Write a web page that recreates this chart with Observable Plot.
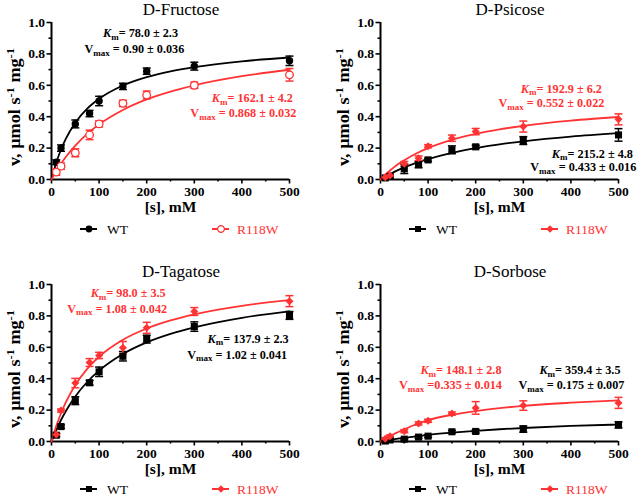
<!DOCTYPE html>
<html><head><meta charset="utf-8">
<script src="https://cdn.jsdelivr.net/npm/d3@7"></script>
<script src="https://cdn.jsdelivr.net/npm/@observablehq/plot@0.6"></script>
<style>
body{margin:0;background:#fff;}
#chart{position:relative;width:638px;height:497px;overflow:hidden;background:#fff;font-family:"Liberation Serif","Times New Roman",serif;}
.panel{position:absolute;width:309px;height:262px;}
.panel svg{position:absolute;left:0;top:0;}
.title{position:absolute;top:0px;font-size:17px;line-height:19px;transform:translateX(-50%);white-space:nowrap;color:#000;}
</style></head><body><div id="chart"></div>
<script>
// ---- data ----
const substrate = [10, 20, 50, 80, 100, 150, 200, 300, 500];
const fitS = [0, 10, 20, 30, 50, 75, 100, 150, 200, 250, 300, 400, 500];
const seriesNames = ["WT", "R118W"];
const titles = ["D-Fructose", "D-Psicose", "D-Tagatose", "D-Sorbose"];
const xTicks = [0, 100, 200, 300, 400, 500];
const xMinor = [50, 150, 250, 350, 450];
const yTicks = [0, 0.2, 0.4, 0.6, 0.8, 1.0];
const yMinor = [0.1, 0.3, 0.5, 0.7, 0.9];

const fructoseWT = [0.11, 0.20, 0.354, 0.42, 0.50, 0.593, 0.69, 0.722, 0.756];
const fructoseWTerr = [0.015, 0.02, 0.025, 0.02, 0.03, 0.02, 0.02, 0.025, 0.03];
const fructoseWTfit = [0, 0.107, 0.191, 0.259, 0.362, 0.451, 0.514, 0.599, 0.652, 0.689, 0.716, 0.753, 0.777];
const fructoseMut = [0.047, 0.085, 0.17, 0.284, 0.354, 0.485, 0.538, 0.60, 0.667];
const fructoseMutErr = [0.02, 0.02, 0.025, 0.03, 0.02, 0.02, 0.025, 0.02, 0.04];
const fructoseMutFit = [0, 0.053, 0.10, 0.143, 0.216, 0.291, 0.351, 0.443, 0.51, 0.56, 0.60, 0.658, 0.699];

const psicoseWT = [0.01, 0.02, 0.068, 0.095, 0.125, 0.189, 0.208, 0.248, 0.284];
const psicoseWTerr = [0.005, 0.01, 0.03, 0.02, 0.01, 0.025, 0.01, 0.025, 0.04];
const psicoseWTfit = [0, 0.018, 0.034, 0.05, 0.077, 0.106, 0.13, 0.17, 0.20, 0.224, 0.243, 0.273, 0.295];
const psicoseMut = [0.015, 0.025, 0.10, 0.135, 0.212, 0.263, 0.305, 0.337, 0.383];
const psicoseMutErr = [0.005, 0.01, 0.015, 0.015, 0.01, 0.02, 0.02, 0.035, 0.035];
const psicoseMutFit = [0, 0.03, 0.057, 0.082, 0.123, 0.166, 0.20, 0.252, 0.29, 0.319, 0.342, 0.375, 0.398];

const tagatoseWT = [0.04, 0.095, 0.26, 0.374, 0.444, 0.543, 0.652, 0.732, 0.803];
const tagatoseWTerr = [0.01, 0.01, 0.025, 0.015, 0.03, 0.03, 0.025, 0.03, 0.025];
const tagatoseWTfit = [0, 0.073, 0.137, 0.193, 0.287, 0.379, 0.451, 0.557, 0.631, 0.685, 0.727, 0.788, 0.829];
const tagatoseMut = [0.045, 0.197, 0.372, 0.503, 0.548, 0.597, 0.724, 0.828, 0.894];
const tagatoseMutErr = [0.01, 0.01, 0.03, 0.025, 0.02, 0.04, 0.035, 0.025, 0.035];
const tagatoseMutFit = [0, 0.098, 0.18, 0.249, 0.36, 0.463, 0.54, 0.648, 0.72, 0.771, 0.81, 0.864, 0.90];

const sorboseWT = [0.003, 0.01, 0.015, 0.028, 0.034, 0.062, 0.064, 0.079, 0.106];
const sorboseWTerr = [0.003, 0.005, 0.005, 0.008, 0.008, 0.008, 0.01, 0.02, 0.02];
const sorboseWTfit = [0, 0.005, 0.01, 0.015, 0.024, 0.033, 0.042, 0.056, 0.068, 0.078, 0.086, 0.099, 0.108];
const sorboseMut = [0.017, 0.034, 0.066, 0.115, 0.132, 0.178, 0.214, 0.229, 0.246];
const sorboseMutErr = [0.005, 0.008, 0.01, 0.01, 0.01, 0.01, 0.04, 0.03, 0.035];
const sorboseMutFit = [0, 0.018, 0.035, 0.05, 0.078, 0.11, 0.136, 0.17, 0.194, 0.2125, 0.227, 0.247, 0.262];

// kinetic constants text [WT, R118W]
const fructoseKm = ["K_m= 78.0 ± 2.3", "K_m= 162.1 ± 4.2"];
const fructoseVmax = ["V_max = 0.90 ± 0.036", "V_max = 0.868 ± 0.032"];
const psicoseKm = ["K_m= 215.2 ± 4.8", "K_m= 192.9 ± 6.2"];
const psicoseVmax = ["V_max = 0.433 ± 0.016", "V_max = 0.552 ± 0.022"];
const tagatoseKm = ["K_m= 137.9 ± 2.3", "K_m= 98.0 ± 3.5"];
const tagatoseVmax = ["V_max = 1.02 ± 0.041", "V_max = 1.08 ± 0.042"];
const sorboseKm = ["K_m= 359.4 ± 3.5", "K_m= 148.1 ± 2.8"];
const sorboseVmax = ["V_max = 0.175 ± 0.007", "V_max =0.335 ± 0.014"];

// ---- layout (annotation anchors in data units: [WT Km, WT Vmax, Mut Km, Mut Vmax]) ----
const RED = "#ff3333";
const layout = [
  {left: 0, top: 0, legTop: 219, wtSym: "circle", mutSym: "circle", mutOpen: true,
   ann: [[187, 0.93], [174, 0.828], [422, 0.516], [403, 0.42]]},
  {left: 329, top: 0, legTop: 219, wtSym: "square", mutSym: "diamond2", mutOpen: false,
   ann: [[445, 0.165], [426, 0.079], [380, 0.578], [359, 0.484]]},
  {left: 0, top: 262, legTop: 217, wtSym: "square", mutSym: "diamond2", mutOpen: false,
   ann: [[413, 0.654], [390, 0.552], [161, 0.945], [138, 0.845]]},
  {left: 329, top: 262, legTop: 217, wtSym: "square", mutSym: "diamond2", mutOpen: false,
   ann: [[419, 0.452], [401, 0.357], [169, 0.452], [147, 0.357]]}
];
const panelData = [
  {wt: [fructoseWT, fructoseWTerr, fructoseWTfit], mut: [fructoseMut, fructoseMutErr, fructoseMutFit], km: fructoseKm, vmax: fructoseVmax},
  {wt: [psicoseWT, psicoseWTerr, psicoseWTfit], mut: [psicoseMut, psicoseMutErr, psicoseMutFit], km: psicoseKm, vmax: psicoseVmax},
  {wt: [tagatoseWT, tagatoseWTerr, tagatoseWTfit], mut: [tagatoseMut, tagatoseMutErr, tagatoseMutFit], km: tagatoseKm, vmax: tagatoseVmax},
  {wt: [sorboseWT, sorboseWTerr, sorboseWTfit], mut: [sorboseMut, sorboseMutErr, sorboseMutFit], km: sorboseKm, vmax: sorboseVmax}
];

const W = 309, H = 222, ML = 51, MR = 20, MT = 22, MB = 43;
const FONT = '"Liberation Serif","Times New Roman",serif';
const capSymbol = {draw(ctx, size) { const w = Math.sqrt(size / Math.PI); ctx.moveTo(-w, 0); ctx.lineTo(w, 0); }};
const yLabel = "v, µmol s^-1 mg^-1";

function richAnn(s) {
  const m = s.match(/^([KV])_(max|m)(.*)$/);
  if (!m) return s;
  const base = m[1] === "K" ? `<tspan font-style="italic">K</tspan>` : `<tspan>V</tspan>`;
  return base + `<tspan font-size="9" dy="2.5">${m[2]}</tspan><tspan dy="-2.5">${m[3].replace(/ /g, "\u00a0")}</tspan>`;
}
function richY(s) {
  const parts = s.split(/\^(-1)/);
  let html = "", up = false;
  parts.forEach((part, i) => {
    if (i % 2 === 1) { html += `<tspan font-size="11" dy="-6">${part}</tspan>`; up = true; }
    else if (part.length) { html += `<tspan${up ? ' dy="6"' : ""}>${part.replace(/ /g, "\u00a0")}</tspan>`; up = false; }
  });
  return html;
}

const chart = document.getElementById("chart");

layout.forEach((L, p) => {
  const D = panelData[p];
  const rows = (vals, err) => substrate.map((s, i) => ({s, v: vals[i], lo: vals[i] - err[i], hi: vals[i] + err[i]}));
  const wt = rows(D.wt[0], D.wt[1]);
  const mut = rows(D.mut[0], D.mut[1]);
  const wtFit = fitS.map((s, i) => ({s, v: D.wt[2][i]}));
  const mutFit = fitS.map((s, i) => ({s, v: D.mut[2][i]}));
  const ann = [
    {t: D.km[0], c: "#000", a: L.ann[0]}, {t: D.vmax[0], c: "#000", a: L.ann[1]},
    {t: D.km[1], c: RED, a: L.ann[2]}, {t: D.vmax[1], c: RED, a: L.ann[3]}
  ];

  const plot = Plot.plot({
    width: W, height: H, marginLeft: ML, marginRight: MR, marginTop: MT, marginBottom: MB,
    x: {domain: [0, 500]}, y: {domain: [0, 1]},
    style: {fontFamily: FONT, fontWeight: "bold", color: "#000", background: "transparent", overflow: "visible"},
    marks: [
      Plot.axisX(xMinor, {tickSize: 2.5, strokeWidth: 1.6, tickFormat: () => "", label: null}),
      Plot.axisX(xTicks, {tickSize: 4.5, tickPadding: 2.5, strokeWidth: 1.6, fontSize: 13.5, fontFamily: FONT, fontWeight: "bold", label: null}),
      Plot.axisY(yMinor, {tickSize: 2.5, strokeWidth: 1.6, tickFormat: () => "", label: null}),
      Plot.axisY(yTicks, {tickSize: 4.5, tickPadding: 2, strokeWidth: 1.6, fontSize: 13.5, fontFamily: FONT, fontWeight: "bold", tickFormat: d3.format(".1f"), label: null}),
      Plot.ruleX([0], {y1: 0, y2: 1, strokeWidth: 2}),
      Plot.ruleY([0], {x1: 0, x2: 500, strokeWidth: 2}),
      Plot.line(wtFit, {x: "s", y: "v", stroke: "#000", strokeWidth: 1.8, curve: "monotone-x"}),
      Plot.line(mutFit, {x: "s", y: "v", stroke: RED, strokeWidth: 1.8, curve: "monotone-x"}),
      Plot.ruleX(wt, {x: "s", y1: "lo", y2: "hi", stroke: "#000", strokeWidth: 1.5}),
      Plot.dot(wt, {x: "s", y: "hi", symbol: capSymbol, r: 4, stroke: "#000", strokeWidth: 1.5, fill: "none"}),
      Plot.dot(wt, {x: "s", y: "lo", symbol: capSymbol, r: 4, stroke: "#000", strokeWidth: 1.5, fill: "none"}),
      Plot.ruleX(mut, {x: "s", y1: "lo", y2: "hi", stroke: RED, strokeWidth: 1.5}),
      Plot.dot(mut, {x: "s", y: "hi", symbol: capSymbol, r: 4, stroke: RED, strokeWidth: 1.5, fill: "none"}),
      Plot.dot(mut, {x: "s", y: "lo", symbol: capSymbol, r: 4, stroke: RED, strokeWidth: 1.5, fill: "none"}),
      Plot.dot(wt, {x: "s", y: "v", symbol: L.wtSym, r: L.wtSym === "circle" ? 3.7 : 4, fill: "#000", stroke: "none"}),
      L.mutOpen
        ? Plot.dot(mut, {x: "s", y: "v", symbol: "circle", r: 3.8, fill: "white", stroke: RED, strokeWidth: 1.3})
        : Plot.dot(mut, {x: "s", y: "v", symbol: L.mutSym, r: 3.6, fill: RED, stroke: "none"}),
      Plot.text(ann, {x: d => d.a[0], y: d => d.a[1], text: "t", fill: "c", fontSize: 12.2, fontFamily: FONT, fontWeight: "bold", className: "ann"}),
      Plot.text([yLabel], {text: d => d, frameAnchor: "left", textAnchor: "middle", rotate: -90, dx: -37, dy: 6, fontSize: 16, fontFamily: FONT, fontWeight: "bold", className: "ylab"}),
      Plot.text(["[s], mM"], {text: d => d, frameAnchor: "bottom", textAnchor: "middle", dy: 32, fontSize: 15.5, fontFamily: FONT, fontWeight: "bold"})
    ]
  });

  d3.select(plot).selectAll(".ann text").each(function() { this.innerHTML = richAnn(this.textContent); });
  d3.select(plot).selectAll(".ylab text").each(function() {
    this.innerHTML = richY(this.textContent);
    this.setAttribute("textLength", 118);
    this.setAttribute("lengthAdjust", "spacingAndGlyphs");
  });

  const div = document.createElement("div");
  div.className = "panel";
  div.style.left = L.left + "px";
  div.style.top = L.top + "px";
  div.appendChild(plot);

  const title = document.createElement("div");
  title.className = "title";
  title.style.left = (ML + 130) + "px";
  title.textContent = titles[p];
  div.appendChild(title);

  // legend
  const leg = d3.create("svg").attr("width", W).attr("height", 20)
    .style("position", "absolute").style("left", "0px").style("top", L.legTop + "px").style("overflow", "visible");
  const items = [
    {name: seriesNames[0], color: "#000", sym: L.wtSym, open: false, x: ML + 29, tx: ML + 56},
    {name: seriesNames[1], color: RED, sym: L.mutSym, open: L.mutOpen, x: ML + 161, tx: ML + 186}
  ];
  const symMap = {circle: d3.symbolCircle, square: d3.symbolSquare, diamond2: d3.symbolDiamond2};
  items.forEach(it => {
    const g = leg.append("g");
    g.append("line").attr("x1", it.x).attr("x2", it.x + 17).attr("y1", 10).attr("y2", 10)
      .attr("stroke", it.color).attr("stroke-width", 2);
    g.append("path").attr("transform", `translate(${it.x + 9},10)`)
      .attr("d", d3.symbol(symMap[it.sym], Math.PI * 3.4 * 3.4)())
      .attr("fill", it.open ? "white" : it.color).attr("stroke", it.open ? it.color : "none").attr("stroke-width", 1.2);
    g.append("text").attr("x", it.tx).attr("y", 10).attr("dy", "0.35em")
      .style("font-family", FONT).attr("font-size", 13.5).attr("fill", it.color).text(it.name);
  });
  div.appendChild(leg.node());

  chart.appendChild(div);
});
</script></body></html>
